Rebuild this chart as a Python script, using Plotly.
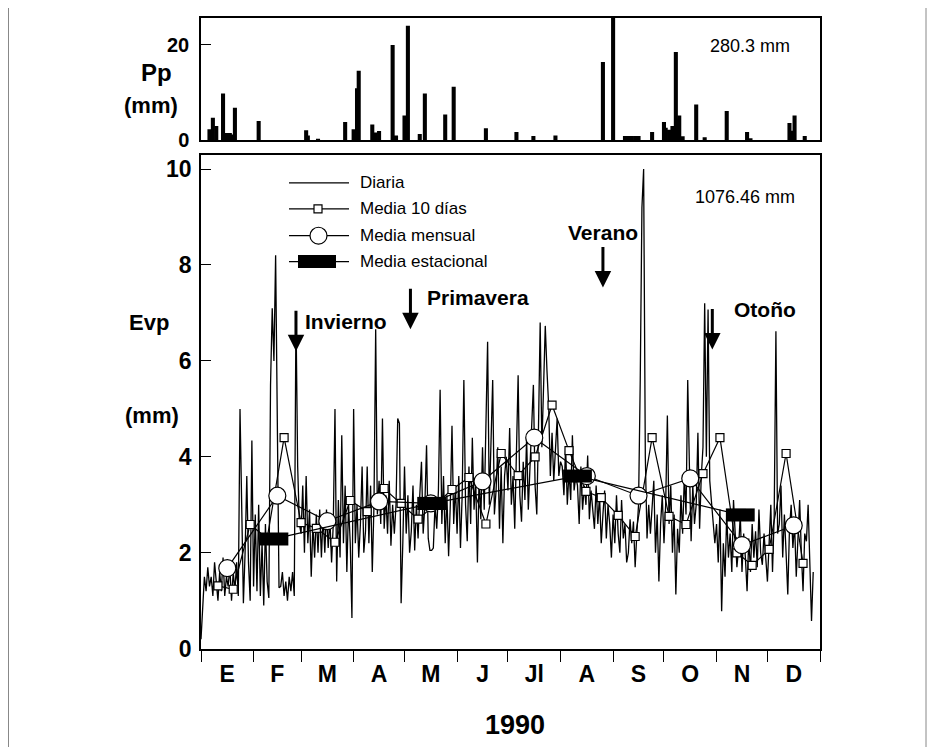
import plotly.graph_objects as go

W, H = 935, 752

# ---------------- data ----------------
months = ["E", "F", "M", "A", "M", "J", "Jl", "A", "S", "O", "N", "D"]
month_start_day = [0, 31, 59, 90, 120, 151, 181, 212, 243, 273, 304, 334, 365]
month_mid_day = [15.5, 45, 74.5, 105, 135.5, 166, 196.5, 227.5, 258, 288.5, 319, 349.5]

evap_jan = [0.2, 0.9, 1.5, 1.2, 1.7, 1.3, 1.5, 1.1, 1.8, 1.4, 1.0, 1.6, 1.2, 1.9, 1.1, 1.5,
            1.3, 1.7, 1.0, 1.6, 1.2, 1.8, 1.1, 5.0, 2.5, 0.95, 2.0, 3.6, 1.8, 1.0, 4.34]
evap_feb = [1.3, 2.8, 1.2, 3.0, 1.1, 2.2, 0.9, 2.6, 1.4, 1.06, 5.5, 7.1, 6.0, 8.2, 4.0, 1.27,
            1.3, 1.6, 1.1, 1.4, 1.0, 1.5, 1.2, 1.6, 1.1, 7.0, 3.8, 2.6]
evap_mar = [2.4, 3.4, 2.0, 3.6, 2.2, 2.9, 1.5, 2.6, 1.9, 2.8, 2.0, 2.9, 1.9, 2.8, 2.0, 2.9,
            2.1, 2.7, 1.8, 2.6, 5.0, 1.4, 3.1, 1.9, 4.45, 2.2, 3.4, 1.6, 3.0, 2.2, 0.64]
evap_apr = [5.0, 2.2, 3.0, 1.9, 2.6, 3.8, 2.0, 2.45, 3.8, 2.2, 3.4, 1.6, 3.0, 6.66, 2.8, 3.5,
            2.6, 4.8, 2.5, 3.2, 2.4, 3.5, 2.15, 3.0, 2.4, 3.0, 4.8, 4.7, 0.95, 2.2]
evap_may = [3.8, 2.4, 3.2, 2.0, 2.45, 3.4, 2.05, 3.0, 2.3, 3.2, 3.9, 2.4, 3.0, 4.24, 2.3, 2.05,
            2.05, 2.1, 3.0, 2.5, 3.3, 5.4, 2.6, 3.6, 2.2, 3.2, 1.93, 3.0, 4.65, 2.6, 3.4]
evap_jun = [2.4, 3.6, 2.1, 3.2, 5.6, 3.0, 2.24, 3.8, 2.6, 4.4, 2.9, 3.5, 1.8, 3.6, 2.7, 4.2,
            2.9, 5.0, 6.4, 3.0, 4.1, 5.6, 2.8, 3.3, 4.2, 2.5, 3.8, 2.2, 3.6, 4.0]
evap_jul = [3.3, 4.6, 3.0, 3.6, 2.5, 4.0, 5.7, 3.2, 2.65, 3.9, 3.1, 4.4, 2.9, 3.8, 4.6, 5.5,
            3.4, 2.8, 4.6, 6.8, 4.2, 5.5, 6.73, 5.8, 5.07, 3.6, 4.5, 3.5, 4.3, 4.8, 3.6]
evap_aug = [3.9, 3.8, 3.2, 4.2, 3.0, 3.7, 3.1, 4.45, 3.3, 3.6, 3.4, 2.6, 3.8, 2.9, 3.4, 3.0,
            4.03, 2.7, 3.3, 2.9, 2.5, 3.4, 2.6, 3.2, 2.2, 2.8, 3.3, 2.3, 3.0, 2.6, 1.9]
evap_sep = [2.8, 2.2, 3.2, 2.4, 2.0, 3.1, 2.3, 2.6, 1.8, 2.0, 2.7, 2.2, 2.65, 1.7, 2.4, 3.0,
            5.6, 9.2, 10.0, 4.0, 2.3, 3.0, 2.4, 3.1, 3.5, 2.0, 2.8, 1.4, 2.6, 3.2]
evap_oct = [2.2, 3.0, 4.86, 2.6, 3.4, 2.0, 2.8, 1.13, 2.5, 2.0, 3.2, 2.4, 3.6, 2.8, 5.6, 3.8,
            2.24, 3.4, 2.6, 3.0, 4.5, 2.5, 3.6, 4.2, 7.2, 4.0, 7.07, 3.5, 3.1, 2.6, 2.2]
evap_nov = [2.6, 1.8, 2.9, 0.78, 2.2, 1.5, 2.8, 1.9, 2.4, 1.6, 3.1, 2.3, 1.7, 2.1, 2.8, 1.6,
            2.4, 1.9, 1.2, 2.3, 1.6, 2.6, 1.9, 2.45, 1.7, 2.9, 2.0, 1.75, 2.4, 1.9]
evap_dec = [1.4, 2.2, 3.0, 1.6, 2.8, 6.62, 2.4, 2.6, 3.4, 1.9, 2.8, 2.0, 1.13, 2.5, 3.0, 2.1,
            2.6, 1.5, 2.4, 3.1, 2.0, 1.2, 2.4, 2.24, 3.0, 1.8, 0.58, 1.6]

ten_day_day = [10, 19, 29, 39, 49, 59, 68, 79, 88, 98, 108, 118, 128, 138, 148, 158, 168, 177,
               187, 197, 207, 217, 227, 236, 246, 256, 266, 276, 286, 296, 306, 316, 325, 335, 345, 355]
ten_day_mean = [1.31, 1.24, 2.59, 2.30, 4.40, 2.63, 2.51, 2.22, 3.09, 2.86, 3.34, 3.03, 2.70, 3.00,
                3.32, 3.57, 2.60, 4.07, 3.61, 4.00, 5.08, 4.13, 3.28, 3.15, 2.78, 2.34, 4.40, 2.76,
                2.59, 3.65, 4.40, 2.00, 1.74, 2.07, 4.07, 1.78]

monthly_mean = [1.68, 3.19, 2.66, 3.07, 3.03, 3.49, 4.40, 3.60, 3.19, 3.55, 2.16, 2.57]

season_day = [43, 136, 222, 318]
season_mean = [2.29, 3.03, 3.60, 2.79]

season_names = ["Invierno", "Primavera", "Verano", "Otoño"]
season_arrow_day = [56, 123.5, 237, 301.5]

precip_day = [5, 7, 9, 13, 15, 17, 18, 20, 34, 62, 63, 69, 85, 90, 92, 93, 101, 103, 105, 113,
              115, 120, 122, 129, 132, 144, 149, 168, 186, 196, 209, 237, 243, 250, 252, 254,
              256, 258, 266, 273, 274, 276, 278, 280, 281, 282, 284, 292, 297, 310, 322, 324,
              347, 348, 350, 356]
precip_mm = [2.3, 4.7, 3.0, 9.8, 1.5, 1.5, 1.2, 6.8, 4.0, 2.1, 1.0, 0.3, 3.8, 2.3, 10.9, 14.6,
             3.3, 1.6, 1.9, 20.0, 1.0, 5.2, 24.0, 1.3, 9.8, 5.4, 11.2, 2.5, 1.7, 0.9, 1.0, 16.4,
             28.0, 0.9, 0.9, 0.9, 0.9, 0.9, 1.7, 3.8, 2.6, 2.2, 3.0, 18.5, 4.5, 5.2, 0.8, 7.5,
             0.6, 6.1, 1.7, 0.4, 3.6, 2.0, 5.2, 0.9]

total_evap_text = "1076.46 mm"
total_precip_text = "280.3 mm"

evap_daily = (evap_jan + evap_feb + evap_mar + evap_apr + evap_may + evap_jun + evap_jul +
              evap_aug + evap_sep + evap_oct + evap_nov + evap_dec)
evap_day = list(range(len(evap_daily)))

# ---------------- layout helpers ----------------
FONT = "Liberation Sans, Arial, Helvetica, sans-serif"


# target-picture pixel -> figure fraction (page has an 8px body margin, slight vertical squeeze)
def px(x):
    return (x - 8) / W


def py(y):
    return 1 - ((y - 7.2) / 0.9874) / H


X0, X1 = 201, 820
BOT_T, BOT_B = 155, 651
TOP_T, TOP_B = 17, 140
EV_PX_PER_UNIT = 48.2
PP_PX_PER_UNIT = 4.785

fig = go.Figure()

fig.add_trace(go.Bar(x=precip_day, y=precip_mm, width=2.4, marker=dict(color="black", line=dict(width=0)),
                     xaxis="x2", yaxis="y2", showlegend=False))

fig.add_trace(go.Scatter(x=evap_day, y=evap_daily, mode="lines", line=dict(color="black", width=1.3),
                         showlegend=False, name="Diaria"))
fig.add_trace(go.Scatter(x=ten_day_day, y=ten_day_mean, mode="lines+markers",
                         line=dict(color="black", width=1.2),
                         marker=dict(symbol="square", size=8, color="white", line=dict(color="black", width=1.2)),
                         showlegend=False, name="Media 10 días"))
fig.add_trace(go.Scatter(x=month_mid_day, y=monthly_mean, mode="lines+markers",
                         line=dict(color="black", width=1.2),
                         marker=dict(symbol="circle", size=17, color="white", line=dict(color="black", width=1.2)),
                         showlegend=False, name="Media mensual"))
fig.add_trace(go.Scatter(x=season_day, y=season_mean, mode="lines+markers",
                         line=dict(color="black", width=1.2),
                         marker=dict(symbol="square", size=12, color="black"),
                         error_x=dict(type="constant", value=8.5, color="black", thickness=13, width=0),
                         showlegend=False, name="Media estacional"))

axis_common = dict(showline=True, linecolor="black", linewidth=1.5, mirror=True,
                   showgrid=False, zeroline=False)
ytick_font = dict(family=FONT, size=23, color="black", weight="bold")
ytick_font_top = dict(family=FONT, size=20, color="black", weight="bold")
xtick_font = dict(family=FONT, size=23, color="black", weight="bold")

fig.update_layout(
    width=W, height=H,
    margin=dict(l=0, r=0, t=0, b=0),
    paper_bgcolor="white", plot_bgcolor="white",
    showlegend=False,
    xaxis=dict(domain=[px(X0), px(X1)], range=[0, 365], anchor="y",
               tickmode="array", tickvals=month_mid_day, ticktext=months, ticks="",
               tickfont=xtick_font, ticklabelstandoff=4,
               minor=dict(tickmode="array", tickvals=month_start_day, ticks="outside",
                          ticklen=12, tickcolor="black", tickwidth=1.2, showgrid=False),
               **axis_common),
    yaxis=dict(domain=[py(BOT_B), py(BOT_T)], range=[0, (BOT_B - BOT_T) / EV_PX_PER_UNIT], anchor="x",
               tickmode="array", tickvals=[0, 2, 4, 6, 8, 10], ticks="inside", ticklen=10,
               tickcolor="black", tickwidth=1.2, tickfont=ytick_font, ticklabelstandoff=3,
               **axis_common),
    xaxis2=dict(domain=[px(X0), px(X1)], range=[0, 365], anchor="y2", showticklabels=False,
                ticks="", **axis_common),
    yaxis2=dict(domain=[py(TOP_B), py(TOP_T)], range=[0, (TOP_B - TOP_T) / PP_PX_PER_UNIT], anchor="x2",
                tickmode="array", tickvals=[0, 20], ticks="inside", ticklen=10,
                tickcolor="black", tickwidth=1.2, tickfont=ytick_font_top, ticklabelstandoff=6,
                **axis_common),
)

ann = []
bold = lambda s: dict(family=FONT, size=s, color="black", weight="bold")
reg = lambda s: dict(family=FONT, size=s, color="black")


def label(text, x, y, font, xanchor="center"):
    return dict(text=text, x=px(x), y=py(y), xref="paper", yref="paper", showarrow=False,
                xanchor=xanchor, yanchor="middle", font=font)


# axis titles
ann.append(label("Pp", 156, 72, bold(24)))
ann.append(label("(mm)", 151, 105, bold(22)))
ann.append(label("Evp", 149, 323, bold(22)))
ann.append(label("(mm)", 152, 417, bold(22)))
ann.append(label("1990", 515, 728, bold(27)))

# totals
ann.append(label(total_evap_text, 745, 197, reg(18)))
ann.append(label(total_precip_text, 750, 45, reg(18)))

# seasons: arrows + labels
arrow_tip_val = [6.2, 6.66, 7.53, 6.24]
label_pos = [(346, 322), (478, 298), (603, 233), (765, 310)]
for name, d, v, (lx, ly) in zip(season_names, season_arrow_day, arrow_tip_val, label_pos):
    ann.append(dict(x=d, y=v, xref="x", yref="y", ax=0, ay=-42, text="", showarrow=True,
                    arrowhead=2, arrowsize=1.1, arrowwidth=3, arrowcolor="black"))
    ann.append(label(name, lx, ly, bold(21)))

# manual legend
shapes = []
leg_rows = [183, 209, 236, 262]
leg_labels = ["Diaria", "Media 10 días", "Media mensual", "Media estacional"]
for i, (ry, lab) in enumerate(zip(leg_rows, leg_labels)):
    shapes.append(dict(type="line", xref="paper", yref="paper", x0=px(289), x1=px(349), y0=py(ry), y1=py(ry),
                       line=dict(color="black", width=1.2)))
    if i == 1:
        shapes.append(dict(type="rect", xref="paper", yref="paper", x0=px(314), x1=px(322), y0=py(ry + 4), y1=py(ry - 4),
                           fillcolor="white", line=dict(color="black", width=1.2)))
    elif i == 2:
        shapes.append(dict(type="circle", xref="paper", yref="paper", x0=px(310), x1=px(327), y0=py(ry + 8.5), y1=py(ry - 8.5),
                           fillcolor="white", line=dict(color="black", width=1.2)))
    elif i == 3:
        shapes.append(dict(type="rect", xref="paper", yref="paper", x0=px(298), x1=px(336), y0=py(ry + 6.5), y1=py(ry - 6.5),
                           fillcolor="black", line=dict(color="black", width=0)))
    ann.append(label(lab, 358, ry, reg(17), xanchor="left"))

# outer frame lines of the original figure
shapes.append(dict(type="line", xref="paper", yref="paper", x0=px(8.5), x1=px(8.5), y0=0, y1=1,
                   line=dict(color="#888888", width=1)))
shapes.append(dict(type="line", xref="paper", yref="paper", x0=px(926), x1=px(926), y0=0, y1=1,
                   line=dict(color="#888888", width=1)))

fig.update_layout(annotations=ann, shapes=shapes)

fig.write_html("out.html")
